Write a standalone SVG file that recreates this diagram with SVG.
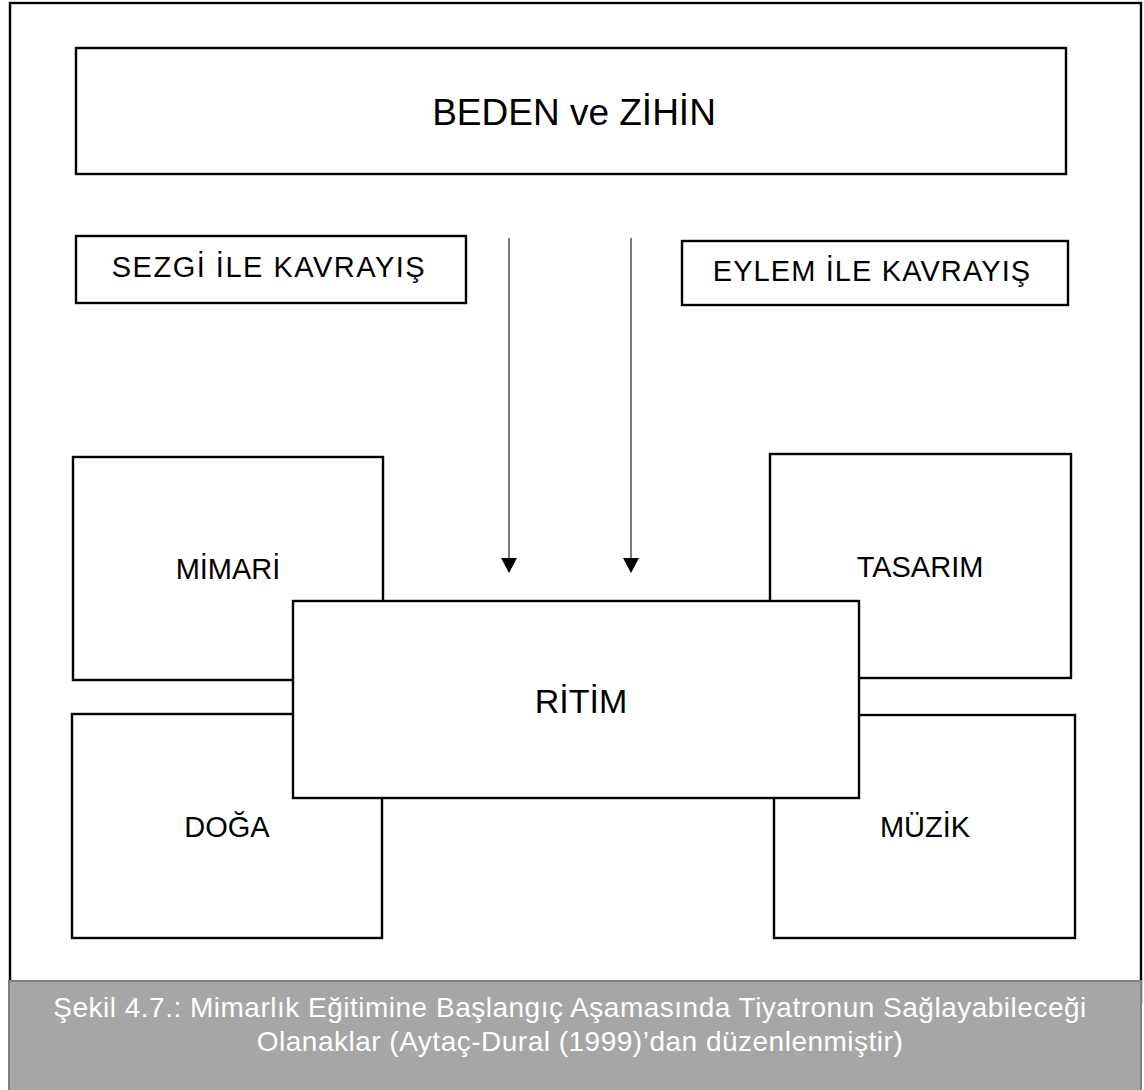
<svg xmlns="http://www.w3.org/2000/svg" width="1144" height="1090" viewBox="0 0 1144 1090">
  <style>
    .box { fill: #ffffff; stroke: #000000; stroke-width: 2.4; }
    .lbl { font-family: "Liberation Sans", Arial, sans-serif; fill: #000000; text-anchor: middle; }
    .flow { stroke: #404040; stroke-width: 1.4; fill: none; }
    .head { fill: #000000; }
    .cap { font-family: "Liberation Sans", Arial, sans-serif; fill: #ffffff; font-size: 28px; letter-spacing: 0.5px; text-anchor: middle; }
  </style>

  <rect width="1144" height="1090" fill="#ffffff"/>

  <!-- page frame -->
  <rect id="frame" x="10" y="3" width="1131" height="1000" fill="none" stroke="#000000" stroke-width="2.4"/>

  <g id="beden-zihin">
    <rect class="box" x="76" y="48" width="990" height="126"/>
    <text class="lbl" x="574" y="125" font-size="37">BEDEN ve ZİHİN</text>
  </g>

  <g id="sezgi">
    <rect class="box" x="76" y="236" width="390" height="67"/>
    <text class="lbl" x="269" y="277" font-size="29" letter-spacing="1.5">SEZGİ İLE KAVRAYIŞ</text>
  </g>

  <g id="eylem">
    <rect class="box" x="682" y="241" width="386" height="64"/>
    <text class="lbl" x="872" y="281" font-size="29" letter-spacing="1.1">EYLEM İLE KAVRAYIŞ</text>
  </g>

  <g id="mimari">
    <rect class="box" x="73" y="457" width="310" height="223"/>
    <text class="lbl" x="228" y="579" font-size="29">MİMARİ</text>
  </g>

  <g id="tasarim">
    <rect class="box" x="770" y="454" width="301" height="224"/>
    <text class="lbl" x="920" y="577" font-size="29">TASARIM</text>
  </g>

  <g id="doga">
    <rect class="box" x="72" y="714" width="310" height="224"/>
    <text class="lbl" x="227" y="837" font-size="29">DOĞA</text>
  </g>

  <g id="muzik">
    <rect class="box" x="774" y="715" width="301" height="223"/>
    <text class="lbl" x="925" y="837" font-size="29">MÜZİK</text>
  </g>

  <!-- central box drawn last so it covers the corners of the four boxes -->
  <g id="ritim">
    <rect class="box" x="293" y="601" width="566" height="197"/>
    <text class="lbl" x="581" y="713" font-size="34">RİTİM</text>
  </g>

  <g id="connectors">
    <line class="flow" x1="509" y1="238" x2="509" y2="560"/>
    <path class="head" d="M501,558 L517,558 L509,573 Z"/>
    <line class="flow" x1="631" y1="238" x2="631" y2="560"/>
    <path class="head" d="M623,558 L639,558 L631,573 Z"/>
  </g>

  <g id="caption">
    <rect x="9" y="981" width="1132" height="112" fill="#a6a6a6" stroke="#7f7f7f" stroke-width="2"/>
    <text class="cap" x="570" y="1017">Şekil 4.7.: Mimarlık Eğitimine Başlangıç Aşamasında Tiyatronun Sağlayabileceği</text>
    <text class="cap" x="580" y="1051">Olanaklar (Aytaç-Dural (1999)’dan düzenlenmiştir)</text>
  </g>
</svg>
